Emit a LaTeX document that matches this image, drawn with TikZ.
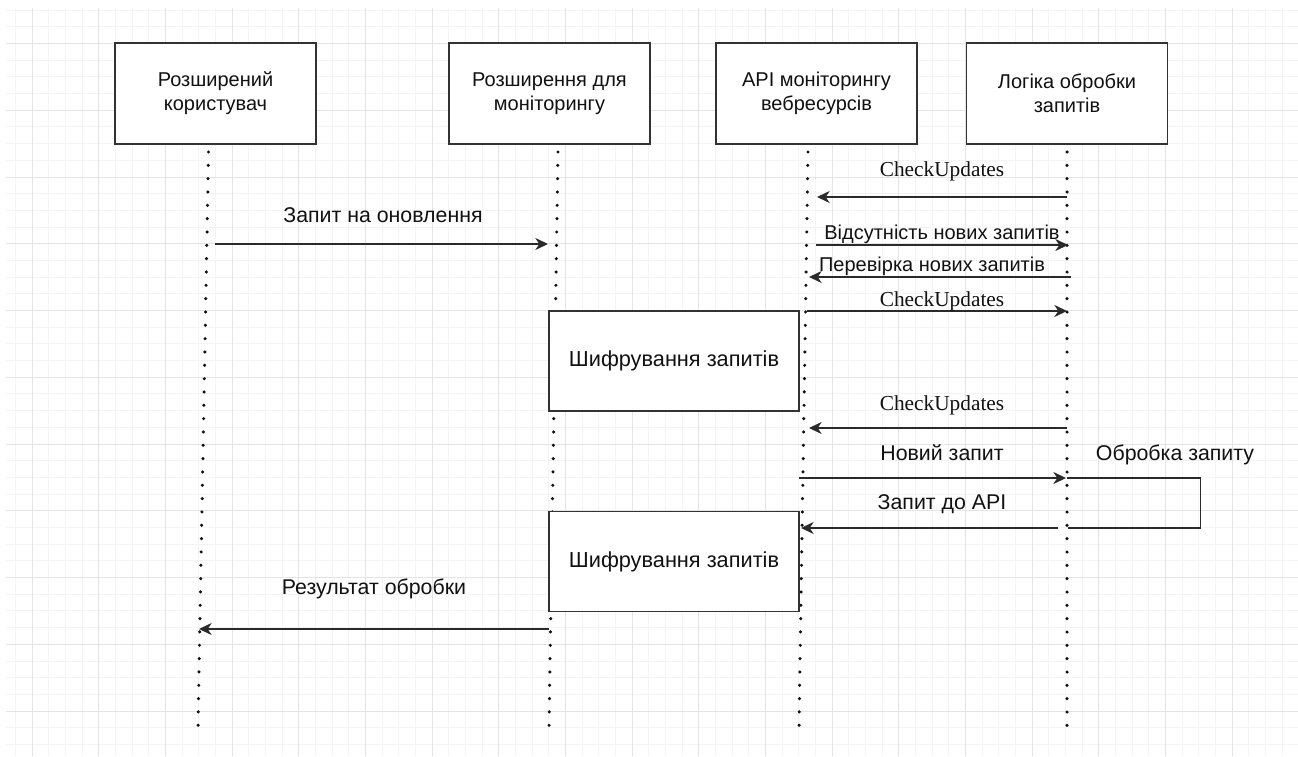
\documentclass[tikz,border=0pt]{standalone}
\usepackage{fontspec}
\setmainfont{Liberation Sans}
\newfontfamily\cuserif{Liberation Serif}
\usetikzlibrary{arrows.meta}
\definecolor{minorc}{HTML}{F4F4F4}
\definecolor{majorc}{HTML}{E4E4E4}
\definecolor{boxc}{HTML}{333333}
\definecolor{arrc}{HTML}{2A2A2A}
\definecolor{txt}{HTML}{111111}
\definecolor{dotc}{HTML}{111111}
\tikzset{
  minorgrid/.style={draw=minorc, line width=0.75pt},
  majorgrid/.style={draw=majorc, line width=0.75pt},
  box/.style={draw=boxc, line width=1.45pt, fill=white, minimum width=150.75pt, minimum height=75.75pt, inner sep=0pt, align=center, font=\fontsize{15}{18}\selectfont, text=txt},
  encbox/.style={box, minimum width=187.5pt, minimum height=75pt, font=\fontsize{16.3}{19}\selectfont},
  life/.style={line width=2.6pt, dash pattern=on 0pt off 10pt, line cap=round, draw=dotc},
  msg/.style={line width=1.35pt, draw=arrc, -{Stealth[length=9.5pt,width=9pt,inset=3pt]}},
  loopline/.style={line width=1.35pt, draw=arrc},
  lbl/.style={anchor=base, inner sep=0pt, text=txt, font=\fontsize{16}{19}\selectfont},
  slbl/.style={lbl, font=\fontsize{15}{18}\selectfont},
  cu/.style={lbl, font=\cuserif\fontsize{16}{18}\selectfont},
}
\begin{document}
\begin{tikzpicture}[x=0.75pt,y=-0.75pt]
\useasboundingbox[fill=white] (0,0) rectangle (1298,756);
% grid
\foreach \i in {0,...,76} {\draw[minorgrid] ({15.333+16.667*\i},8) -- ({15.333+16.667*\i},756);}
\foreach \j in {0,...,44} {\draw[minorgrid] (6,{10.1+16.69*\j}) -- (1298,{10.1+16.69*\j});}
\foreach \i in {0,...,19} {\draw[majorgrid] ({32+66.667*\i},8) -- ({32+66.667*\i},756);}
\foreach \j in {0,...,10} {\draw[majorgrid] (6,{43.5+66.76*\j}) -- (1298,{43.5+66.76*\j});}

% lifelines
\coordinate (l1t) at (208.5,152); \coordinate (l1b) at (198,727);
\coordinate (l2t) at (558,152);   \coordinate (l2b) at (549,727);
\coordinate (l3t) at (808,152);   \coordinate (l3b) at (799,727);
\coordinate (l4t) at (1067,152);  \coordinate (l4b) at (1067,727);
\draw[life] (l1t) -- (l1b);
\draw[life] (l2t) -- (l2b);
\draw[life] (l3t) -- (l3b);
\draw[life] (l4t) -- (l4b);

% participants
\node[box] (user) at (215.5,93.5) {Розширений\\користувач};
\node[box] (ext) at (549.5,93.5) {Розширення для\\моніторингу};
\node[box] (api) at (816.5,93.5) {API моніторингу\\вебресурсів};
\node[box] (logic) at (1067,93.5) {Логіка обробки\\запитів};

% encryption boxes
\node[encbox] (enc1) at (674,361) {Шифрування запитів};
\node[encbox] (enc2) at (674,561.5) {Шифрування запитів};

% message end points
\coordinate (m0s) at (215,244);  \coordinate (m0e) at (548,244);
\coordinate (m1s) at (1067,197); \coordinate (m1e) at (817,197);
\coordinate (m2s) at (816,245);  \coordinate (m2e) at (1068,245);
\coordinate (m3s) at (1071,277); \coordinate (m3e) at (809,277);
\coordinate (m4s) at (807,311);  \coordinate (m4e) at (1067,311);
\coordinate (m5s) at (1067,428); \coordinate (m5e) at (809,428);
\coordinate (m6s) at (799,478);  \coordinate (m6e) at (1066,478);
\coordinate (lpa) at (1067,478); \coordinate (lpb) at (1200.5,478);
\coordinate (lpc) at (1200.5,528); \coordinate (lpd) at (1068,528);
\coordinate (m7s) at (1058,528); \coordinate (m7e) at (801,528);
\coordinate (m8s) at (549,629);  \coordinate (m8e) at (199,629);

\draw[msg] (m0s) -- (m0e);
\draw[msg] (m1s) -- (m1e);
\draw[msg] (m2s) -- (m2e);
\draw[msg] (m3s) -- (m3e);
\draw[msg] (m4s) -- (m4e);
\draw[msg] (m5s) -- (m5e);
\draw[msg] (m6s) -- (m6e);
\draw[loopline] (lpa) -- (lpb) -- (lpc) -- (lpd);
\draw[msg] (m7s) -- (m7e);
\draw[msg] (m8s) -- (m8e);

% labels
\node[lbl] (t0) at (383,222.7) {Запит на оновлення};
\node[cu] (t1) at (942,176) {CheckUpdates};
\node[slbl] (t2) at (942,239.3) {Відсутність нових запитів};
\node[slbl] (t3) at (932,271.7) {Перевірка нових запитів};
\node[cu] (t4) at (942,306.7) {CheckUpdates};
\node[cu] (t5) at (942,410) {CheckUpdates};
\node[lbl] (t6) at (942,460) {Новий запит};
\node[lbl] (t7) at (1175,460.7) {Обробка запиту};
\node[lbl] (t8) at (942,509.3) {Запит до API};
\node[lbl] (t9) at (374,594) {Результат обробки};
\end{tikzpicture}
\end{document}
